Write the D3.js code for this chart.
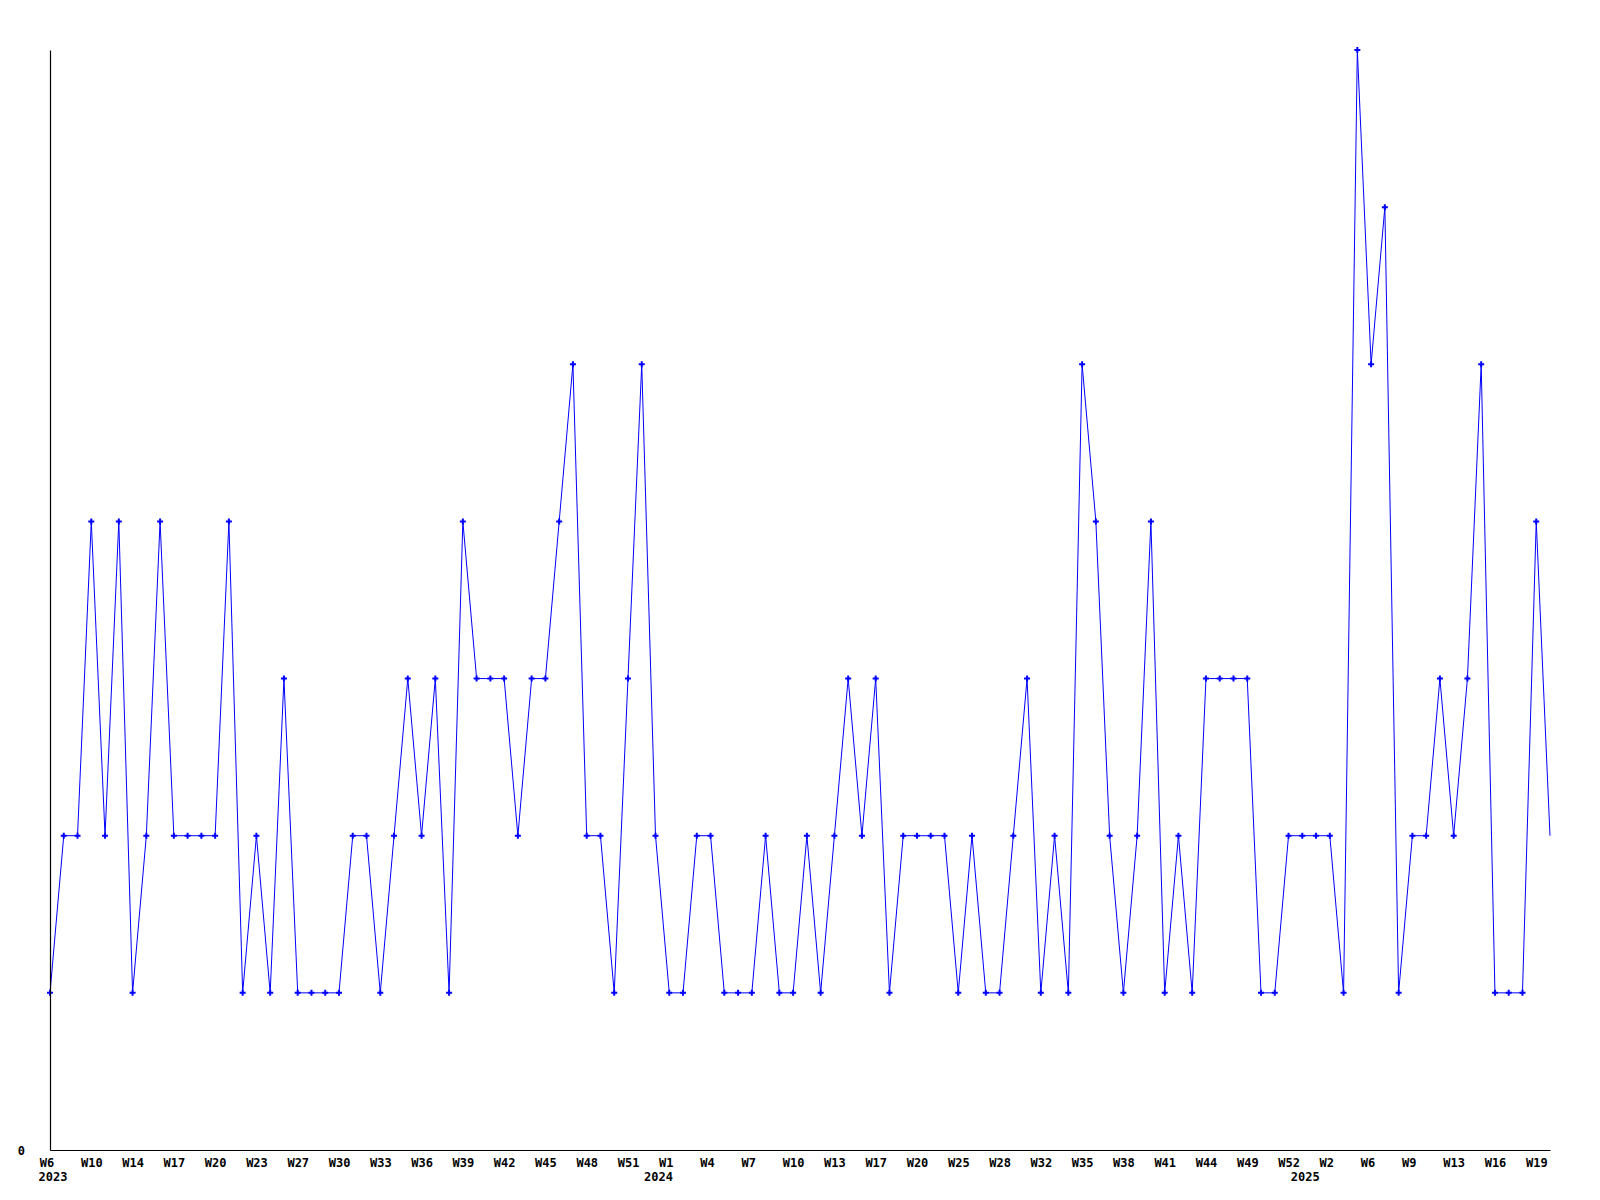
<!DOCTYPE html>
<html>
<head>
<meta charset="utf-8">
<script src="https://cdn.jsdelivr.net/npm/d3@7"></script>
<style>
  html, body { margin: 0; padding: 0; background: #fff; }
  svg { display: block; }
  .lbl { font-family: "DejaVu Sans Mono", "Liberation Mono", monospace; font-weight: bold; font-size: 12px; fill: #000; }
</style>
</head>
<body>
<svg id="chart" width="1600" height="1200"></svg>
<script>
// Weekly counts, one value per plotted week (110 points)
const values = [
  1,2,2,4,2,4,1,2,4,2,
  2,2,2,4,1,2,1,3,1,1,
  1,1,2,2,1,2,3,2,3,1,
  4,3,3,3,2,3,3,4,5,2,
  2,1,3,5,2,1,1,2,2,1,
  1,1,2,1,1,2,1,2,3,2,
  3,1,2,2,2,2,1,2,1,1,
  2,3,1,2,1,5,4,2,1,2,
  4,1,2,1,3,3,3,3,1,1,
  2,2,2,2,1,7,5,6,1,2,
  2,3,2,3,5,1,1,1,4,2
];
// Week labels shown on every third point
const tickLabels = [
  "W6","W10","W14","W17","W20","W23","W27","W30","W33","W36","W39","W42","W45","W48","W51",
  "W1","W4","W7","W10","W13","W17","W20","W25","W28","W32","W35","W38","W41","W44","W49","W52",
  "W2","W6","W9","W13","W16","W19"
];
const yearLabels = ["2023","2024","2025"];
const yearStartIndex = [0, 44, 91];
const yTickValues = [0];

const svg = d3.select("#chart");
const mLeft = 50, mRight = 1550, mTop = 50, mBottom = 1150;

const x = d3.scaleLinear().domain([0, values.length - 1]).range([mLeft, mRight]);
const y = d3.scaleLinear().domain([0, 7]).range([mBottom, mTop]);

// Line
const line = d3.line().x((d, i) => x(i)).y(d => y(d));
svg.append("path")
  .datum(values)
  .attr("fill", "none")
  .attr("stroke", "#0000ff")
  .attr("stroke-width", 1)
  .attr("d", line);

// Markers (last point has none)
svg.append("g").selectAll("path")
  .data(values.slice(0, values.length - 1))
  .join("path")
  .attr("transform", (d, i) => `translate(${x(i)},${y(d)})`)
  .attr("d", d3.symbol(d3.symbolCross, 20))
  .attr("fill", "#0000ff");

// X axis
const xAxis = d3.axisBottom(x)
  .tickValues(d3.range(0, values.length, 3))
  .tickFormat(i => tickLabels[i / 3])
  .tickSize(0)
  .tickSizeOuter(0);
const gx = svg.append("g").attr("transform", `translate(0,${mBottom})`).call(xAxis);
gx.select(".domain").attr("stroke", "#000").attr("stroke-width", 1.2);
gx.selectAll("text")
  .attr("class", "lbl")
  .attr("text-anchor", "start")
  .attr("x", -10.8)
  .attr("y", 13)
  .attr("dy", "0.35em");

// Year labels
svg.append("g").selectAll("text")
  .data(yearLabels)
  .join("text")
  .attr("class", "lbl")
  .attr("text-anchor", "middle")
  .attr("x", (d, i) => x(yearStartIndex[i]) + 3)
  .attr("y", mBottom + 27)
  .attr("dy", "0.35em")
  .text(d => d);

// Y axis
const yAxis = d3.axisLeft(y).tickValues(yTickValues).tickFormat(d3.format("d")).tickSize(0).tickSizeOuter(0);
const gy = svg.append("g").attr("transform", `translate(${mLeft},0)`).call(yAxis);
gy.select(".domain").attr("stroke", "#000").attr("stroke-width", 1.2);
gy.selectAll("text")
  .attr("class", "lbl")
  .attr("x", -25)
  .attr("dy", "0.35em");
</script>
</body>
</html>
